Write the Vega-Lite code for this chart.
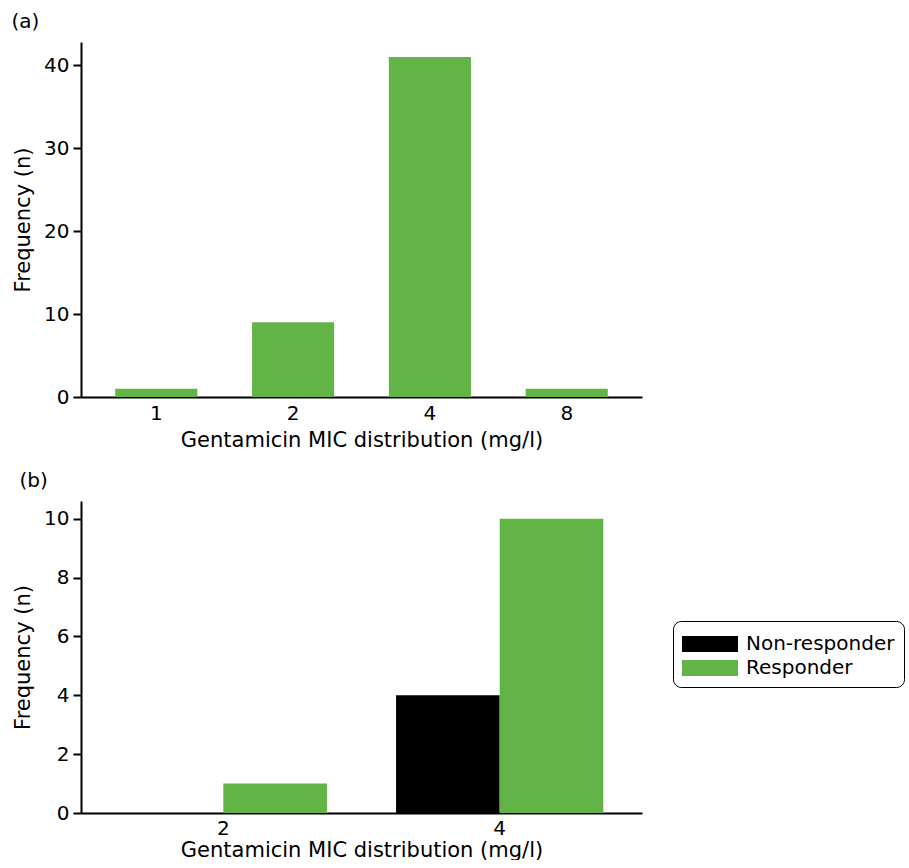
{
  "$schema": "https://vega.github.io/schema/vega-lite/v6.json",
  "padding": {"left": 11, "top": 12, "right": 0, "bottom": 0},
  "background": "white",
  "config": {
    "font": "DejaVu Sans",
    "view": {"stroke": null},
    "axis": {
      "domainColor": "black", "domainWidth": 2, "tickColor": "black", "tickWidth": 2,
      "tickSize": 8, "labelFontSize": 20, "labelColor": "black", "titleFontSize": 21,
      "titleFontWeight": "normal", "titleColor": "black", "grid": false, "labelFont": "DejaVu Sans", "titleFont": "DejaVu Sans"
    },
    "title": {"fontSize": 20, "fontWeight": "normal", "anchor": "start", "frame": "bounds", "color": "black", "font": "DejaVu Sans"}
  },
  "datasets": {
    "a": [
      {"mic": "1", "n": 1},
      {"mic": "2", "n": 9},
      {"mic": "4", "n": 41},
      {"mic": "8", "n": 1}
    ],
    "b": [
      {"mic": "2", "group": "Non-responder", "n": 0},
      {"mic": "2", "group": "Responder", "n": 1},
      {"mic": "4", "group": "Non-responder", "n": 4},
      {"mic": "4", "group": "Responder", "n": 10}
    ]
  },
  "vconcat": [
    {
      "title": {"text": "(a)", "offset": 10, "dx": -1},
      "data": {"name": "a"},
      "width": 561,
      "height": 355,
      "mark": {"type": "bar", "color": "#63b446"},
      "encoding": {
        "x": {"field": "mic", "type": "nominal", "sort": ["1", "2", "4", "8"],
              "scale": {"paddingInner": 0.4, "paddingOuter": 0.25},
              "axis": {"title": "Gentamicin MIC distribution (mg/l)", "labelAngle": 0, "ticks": false, "labelPadding": 6, "titlePadding": 6}},
        "y": {"field": "n", "type": "quantitative", "scale": {"domain": [0, 42.8], "nice": false},
              "axis": {"title": "Frequency (n)", "values": [0, 10, 20, 30, 40], "labelPadding": 4, "titlePadding": 10}}
      }
    },
    {
      "title": {"text": "(b)", "offset": 10, "dx": 7},
      "data": {"name": "b"},
      "width": 561,
      "height": 312,
      "mark": {"type": "bar"},
      "encoding": {
        "x": {"field": "mic", "type": "nominal", "sort": ["2", "4"],
              "scale": {"paddingInner": 0.25, "paddingOuter": 0.14},
              "axis": {"title": "Gentamicin MIC distribution (mg/l)", "labelAngle": 0, "ticks": false, "labelPadding": 5, "titlePadding": 1}},
        "xOffset": {"field": "group", "type": "nominal", "sort": ["Non-responder", "Responder"], "scale": {"paddingInner": 0, "paddingOuter": 0}},
        "y": {"field": "n", "type": "quantitative", "scale": {"domain": [0, 10.6], "nice": false},
              "axis": {"title": "Frequency (n)", "values": [0, 2, 4, 6, 8, 10], "labelPadding": 4, "titlePadding": 10}},
        "color": {"field": "group", "type": "nominal", "sort": ["Non-responder", "Responder"],
                  "scale": {"domain": ["Non-responder", "Responder"], "range": ["#000000", "#63b446"]},
                  "legend": {
                    "title": null, "orient": "none", "legendX": 592, "legendY": 579,
                    "symbolType": "M-1,-0.5714L3,-0.5714L3,0.5714L-1,0.5714Z", "symbolSize": 784,
                    "symbolStrokeWidth": 0, "labelFontSize": 20, "labelColor": "black", "labelFont": "DejaVu Sans",
                    "labelLimit": 400,
                    "strokeColor": "black", "cornerRadius": 8, "padding": 9,
                    "rowPadding": -3, "labelOffset": 36, "symbolOpacity": 1
                  }}
      }
    }
  ],
  "spacing": 21,
  "resolve": {"scale": {"x": "independent", "y": "independent"}}
}
